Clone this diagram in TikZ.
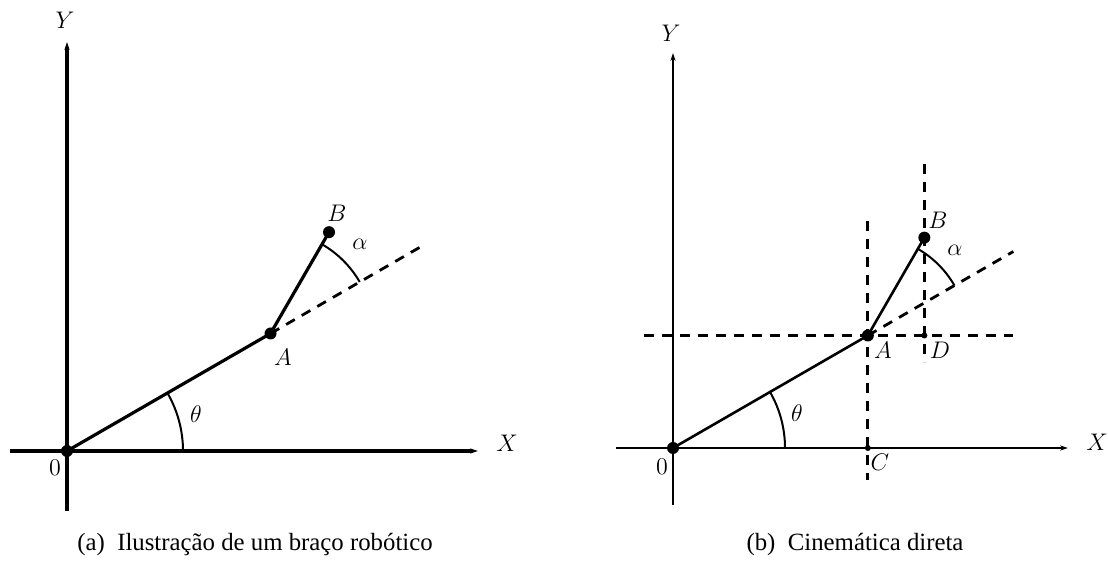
\documentclass[tikz,border=0pt]{standalone}
\usepackage[no-math]{fontspec}
\setmainfont{Liberation Serif}
\usetikzlibrary{arrows.meta,calc}

\begin{document}
\begin{tikzpicture}[x=0.5pt, y=0.5pt,
      axis/.style={line width=#1, -{Stealth[length=4pt, width=2.6pt]}},
      axis/.default=1.6pt,
      link/.style={line width=#1},
      link/.default=1.6pt,
      guide/.style={line width=1.4pt, dash pattern=on 5pt off 4pt},
      joint/.style={circle, fill, inner sep=0pt, minimum size=6pt},
      pin/.style={circle, fill, inner sep=0pt, minimum size=3pt},
      lbl/.style={inner sep=1pt, font=\fontsize{13}{15}\selectfont},
      capt/.style={inner sep=0pt, font=\fontsize{12.4}{14}\selectfont}]
    \useasboundingbox (0,0) rectangle (1108,561);
    % (a)
    \coordinate (O1) at (67,110);
    \coordinate (A1) at ($(O1)+(30:235)$);
    \coordinate (B1) at ($(A1)+(60:117)$);
    \coordinate (E1) at ($(A1)+(30:173)$);
    \coordinate (ytop1) at (67,519);
    \coordinate (ybot1) at (67,50);
    \coordinate (xl1) at (10,110);
    \coordinate (xr1) at (478,110);
    \draw[axis] (ybot1) -- (ytop1);
    \draw[axis] (xl1) -- (xr1);
    \draw[guide] (A1) -- (E1);
    \draw[link] (O1) -- (A1) -- (B1);
    \draw[link=1pt] ($(O1)+(116,0)$) arc[start angle=0, end angle=30, radius=116];
    \draw[link=1pt] ($(A1)+(30:103)$) arc[start angle=30, end angle=60, radius=103];
    \node[joint] (o1) at (O1) {};
    \node[joint] (a1) at (A1) {};
    \node[joint] (b1) at (B1) {};
    \node[lbl] (ly1) at (65,541) {$Y$};
    \node[lbl] (lx1) at (507,118) {$X$};
    \node[lbl] (lo1) at (55,93) {$0$};
    \node[lbl] (la1) at (283,204) {$A$};
    \node[lbl] (lb1) at (337,348) {$B$};
    \node[lbl] (lal1) at (360,317) {$\alpha$};
    \node[lbl] (lth1) at (196,147) {$\theta$};
    \node[capt] (cap1) at (255,16) {(a)\enspace Ilustração de um braço robótico};
    % (b)
    \coordinate (O2) at (673,113);
    \coordinate (A2) at ($(O2)+(30:225)$);
    \coordinate (B2) at ($(A2)+(60:113)$);
    \coordinate (E2) at ($(A2)+(30:168)$);
    \coordinate (C2) at (A2 |- O2);
    \coordinate (D2) at (B2 |- A2);
    \coordinate (ytop2) at (673,508);
    \coordinate (ybot2) at (673,56);
    \coordinate (xl2) at (616,113);
    \coordinate (xr2) at (1068,113);
    \draw[axis=1pt] (ybot2) -- (ytop2);
    \draw[axis=1pt] (xl2) -- (xr2);
    \draw[guide] (644,0 |- A2) -- (1013,0 |- A2);
    \draw[guide] ($(A2)+(0,114)$) -- ($(C2)+(0,-32)$);
    \draw[guide] ($(D2)+(0,171)$) -- ($(D2)+(0,-27)$);
    \draw[guide] (A2) -- (E2);
    \draw[link=1.3pt] (O2) -- (A2) -- (B2);
    \draw[link=1pt] ($(O2)+(112,0)$) arc[start angle=0, end angle=30, radius=112];
    \draw[link=1pt] ($(A2)+(30:100)$) arc[start angle=30, end angle=60, radius=100];
    \node[joint] (o2) at (O2) {};
    \node[joint] (a2) at (A2) {};
    \node[joint] (b2) at (B2) {};
    \node[pin] (c2) at (C2) {};
    \node[pin] (d2) at (D2) {};
    \node[lbl] (ly2) at (671,528) {$Y$};
    \node[lbl] (lx2) at (1097,119) {$X$};
    \node[lbl] (lo2) at (662,94) {$0$};
    \node[lbl] (la2) at (883,211) {$A$};
    \node[lbl] (ld2) at (940,211) {$D$};
    \node[lbl] (lc2) at (880,99) {$C$};
    \node[lbl] (lb2) at (938,341) {$B$};
    \node[lbl] (lal2) at (955,311) {$\alpha$};
    \node[lbl] (lth2) at (797,148) {$\theta$};
    \node[capt] (cap2) at (855,16) {(b)\enspace Cinemática direta};
\end{tikzpicture}
\end{document}
